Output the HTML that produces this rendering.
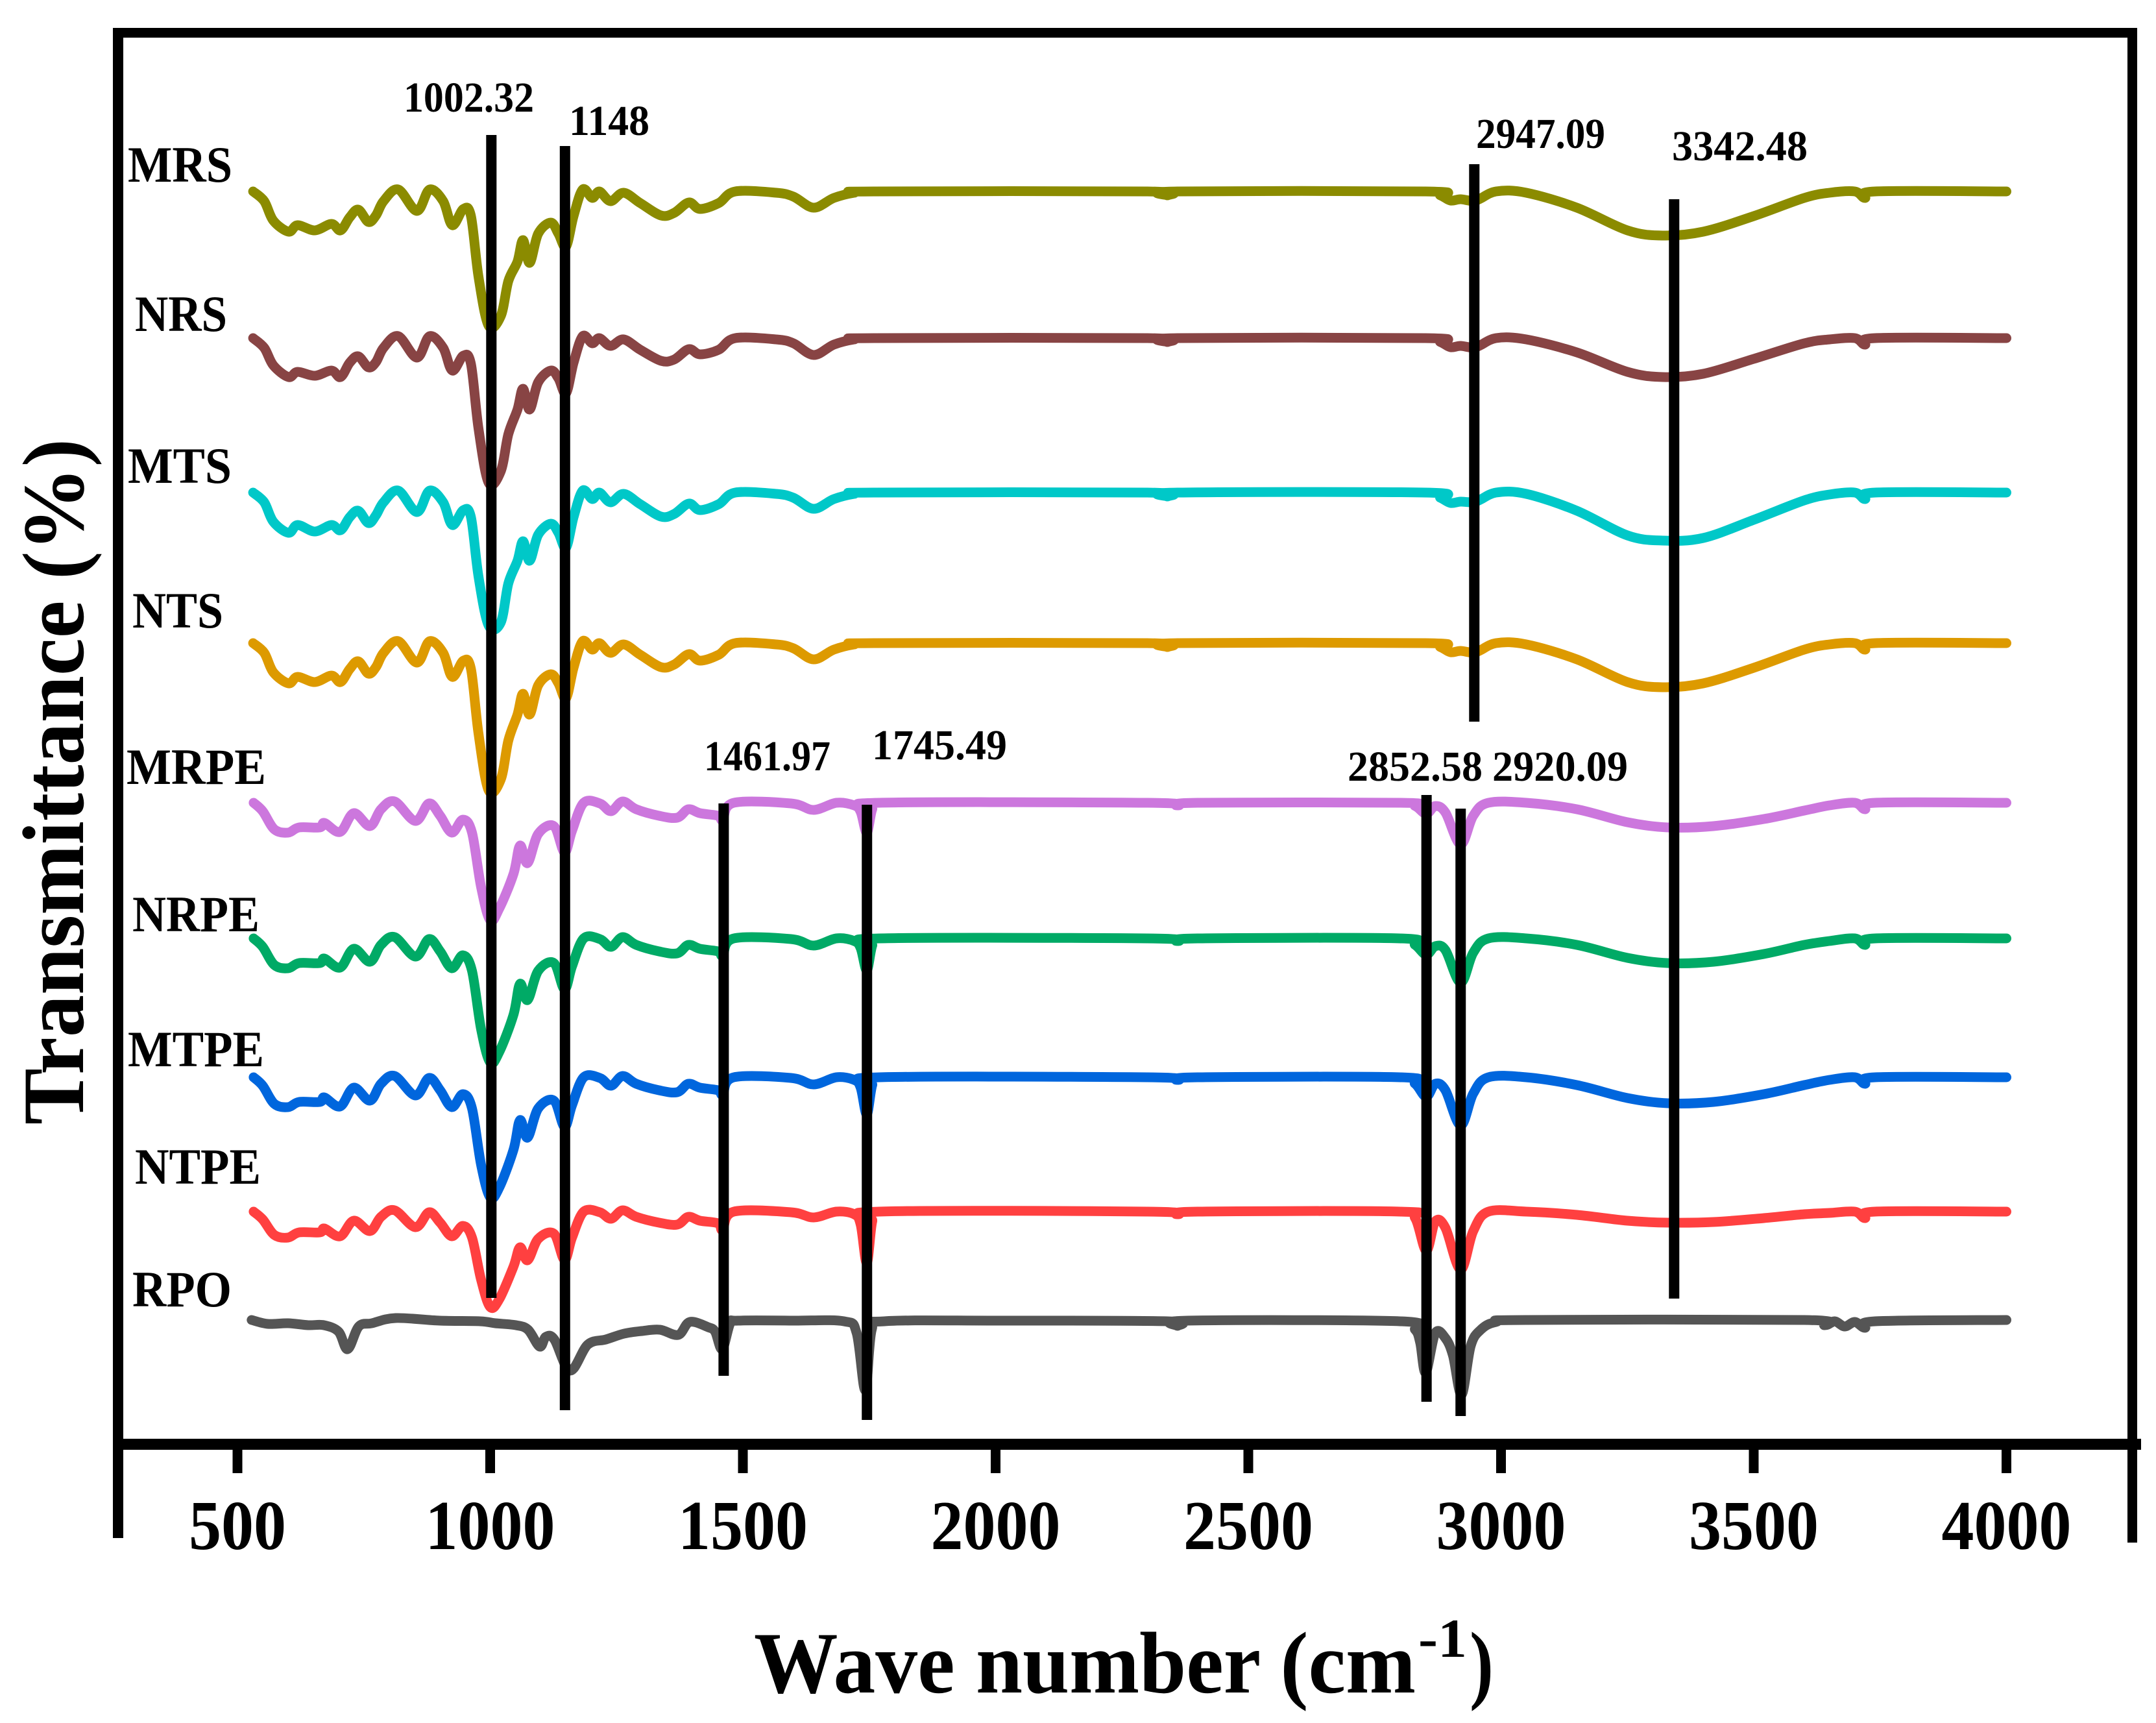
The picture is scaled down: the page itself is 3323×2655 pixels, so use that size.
<!DOCTYPE html>
<html><head><meta charset="utf-8"><style>
html,body{margin:0;padding:0;background:#fff;}
svg{display:block;}
text{font-family:"Liberation Serif",serif;font-weight:bold;fill:#000;}
</style></head><body>
<svg id="chart" width="3323" height="2655" viewBox="0 0 3323 2655" xmlns="http://www.w3.org/2000/svg">
<rect x="0" y="0" width="3323" height="2655" fill="#fff"/>
<g id="frame">
<rect x="174" y="43" width="16" height="2327" fill="#000"/>
<rect x="174" y="43" width="3119" height="15" fill="#000"/>
<rect x="3279" y="43" width="15" height="2334" fill="#000"/>
<rect x="174" y="2217" width="3126" height="17" fill="#000"/>
</g>
<g id="ticks"></g>
<g id="series"></g>
<g id="markers"></g>
<g id="labels"></g>
<text y="2608" font-size="135"><tspan x="1162" textLength="1020" lengthAdjust="spacingAndGlyphs">Wave number (cm</tspan><tspan x="2186" y="2553" font-size="85" textLength="75" lengthAdjust="spacingAndGlyphs">-1</tspan><tspan x="2265" y="2608" textLength="37" lengthAdjust="spacingAndGlyphs">)</tspan></text>
<text font-size="135" transform="translate(128,1733) rotate(-90)" x="0" y="0" textLength="1057" lengthAdjust="spacingAndGlyphs">Transmittance (%)</text>
</svg>
<script>
const xTicks=[500,1000,1500,2000,2500,3000,3500,4000];
const xTickLabels=["500","1000","1500","2000","2500","3000","3500","4000"];
const peakValues=[1002.32,1148,1461.97,1745.49,2852.58,2920.09,2947.09,3342.48];
const peakLabels=["1002.32","1148","1461.97","1745.49","2852.58","2920.09","2947.09","3342.48"];
const seriesNames=["MRS","NRS","MTS","NTS","MRPE","NRPE","MTPE","NTPE","RPO"];
const MRS=[[531,0],[553,15],[571,45],[601,62],[619,52],[653,60],[686,50],[704,60],[722,40],[739,28],[759,47],[774,37],[789,15],[818,-3],[855,30],[880,-3],[907,15],[925,52],[947,27],[962,38],[977,132],[997,207],[1021,192],[1036,138],[1054,108],[1065,75],[1078,110],[1095,65],[1120,48],[1135,65],[1150,85],[1165,38],[1183,-3],[1202,10],[1216,0],[1238,15],[1264,2],[1297,18],[1338,37],[1364,33],[1393,17],[1415,27],[1452,18],[1485,0],[1566,2],[1600,8],[1640,25],[1680,10],[1720,2],[1760,0],[2300,0],[2340,6],[2360,0],[2850,0],[2880,6],[2900,14],[2920,12],[2950,14],[2990,0],[3050,2],[3150,25],[3250,60],[3320,68],[3400,62],[3500,38],[3600,10],[3650,2],[3700,0],[3720,10],[3740,0],[4000,0]];
const NRS=[[531,0],[553,15],[571,42],[601,60],[619,52],[653,58],[686,50],[704,60],[722,38],[739,28],[759,45],[774,37],[789,15],[818,-3],[855,30],[880,-3],[907,15],[925,50],[947,27],[962,40],[977,140],[997,223],[1021,205],[1036,148],[1054,110],[1065,78],[1078,110],[1095,68],[1120,50],[1135,62],[1150,85],[1165,38],[1183,-3],[1202,8],[1216,0],[1238,12],[1264,2],[1297,18],[1338,35],[1364,33],[1393,17],[1415,25],[1452,18],[1485,0],[1566,2],[1600,8],[1640,26],[1680,10],[1720,2],[1760,0],[2300,0],[2340,6],[2360,0],[2850,0],[2880,6],[2900,14],[2920,12],[2950,14],[2990,0],[3050,2],[3150,22],[3250,52],[3320,60],[3400,55],[3500,32],[3600,8],[3650,2],[3700,0],[3720,10],[3740,0],[4000,0]];
const MTS=[[531,0],[553,15],[571,45],[601,62],[619,50],[653,60],[686,50],[704,58],[722,38],[739,28],[759,47],[774,35],[789,15],[818,-3],[855,30],[880,-3],[907,15],[925,50],[947,27],[962,38],[977,130],[997,205],[1021,200],[1036,140],[1054,105],[1065,75],[1078,105],[1095,65],[1120,48],[1135,62],[1150,85],[1165,38],[1183,-3],[1202,10],[1216,0],[1238,15],[1264,2],[1297,18],[1338,37],[1364,33],[1393,17],[1415,27],[1452,18],[1485,0],[1566,2],[1600,8],[1640,25],[1680,10],[1720,2],[1760,0],[2300,0],[2340,6],[2360,0],[2850,0],[2880,8],[2900,16],[2920,14],[2950,14],[2990,0],[3050,2],[3150,28],[3250,66],[3320,74],[3400,70],[3500,42],[3600,12],[3650,3],[3700,0],[3720,10],[3740,0],[4000,0]];
const NTS=[[531,0],[553,15],[571,45],[601,62],[619,52],[653,60],[686,50],[704,60],[722,40],[739,28],[759,47],[774,37],[789,15],[818,-3],[855,30],[880,-3],[907,15],[925,52],[947,27],[962,40],[977,140],[997,227],[1021,210],[1036,150],[1054,110],[1065,78],[1078,110],[1095,65],[1120,48],[1135,62],[1150,85],[1165,38],[1183,-3],[1202,10],[1216,0],[1238,15],[1264,2],[1297,18],[1338,37],[1364,33],[1393,17],[1415,27],[1452,18],[1485,0],[1566,2],[1600,8],[1640,25],[1680,10],[1720,2],[1760,0],[2300,0],[2340,6],[2360,0],[2850,0],[2880,6],[2900,14],[2920,12],[2950,14],[2990,0],[3050,2],[3150,25],[3250,60],[3320,68],[3400,62],[3500,38],[3600,10],[3650,2],[3700,0],[3720,10],[3740,0],[4000,0]];
const MRPE=[[532,0],[550,13],[573,41],[600,46],[622,38],[663,38],[672,31],[703,45],[730,16],[762,36],[784,10],[811,-2],[852,28],[879,1],[901,20],[924,46],[946,26],[964,46],[982,130],[1000,181],[1018,163],[1046,110],[1059,66],[1074,93],[1095,48],[1126,36],[1147,76],[1162,43],[1185,0],[1217,1],[1239,13],[1262,-2],[1289,10],[1334,20],[1370,23],[1392,10],[1415,16],[1451,20],[1460,26],[1482,0],[1595,1],[1640,11],[1685,0],[1720,4],[1733,14],[1745,46],[1756,10],[1770,0],[2300,0],[2360,4],[2400,0],[2800,0],[2830,5],[2852,17],[2870,5],[2890,15],[2920,64],[2945,20],[2975,0],[3050,0],[3150,10],[3250,30],[3330,38],[3420,36],[3520,25],[3600,12],[3650,4],[3700,0],[3720,10],[3740,0],[4000,0]];
const NRPE=[[532,0],[550,13],[573,41],[600,46],[622,38],[663,38],[672,31],[703,45],[730,16],[762,36],[784,10],[811,-2],[852,28],[879,1],[901,20],[924,46],[946,26],[964,50],[982,140],[1000,191],[1018,175],[1046,118],[1059,70],[1074,95],[1095,50],[1126,38],[1147,78],[1162,43],[1185,0],[1217,1],[1239,13],[1262,-2],[1289,10],[1334,20],[1370,23],[1392,10],[1415,16],[1451,20],[1460,26],[1482,0],[1595,1],[1640,11],[1685,0],[1720,4],[1733,15],[1745,49],[1756,11],[1770,0],[2300,0],[2360,4],[2400,0],[2800,0],[2830,10],[2852,25],[2870,12],[2890,18],[2920,68],[2945,22],[2975,0],[3050,0],[3150,10],[3250,30],[3330,38],[3420,36],[3520,24],[3600,10],[3650,4],[3700,0],[3720,10],[3740,0],[4000,0]];
const MTPE=[[532,0],[550,13],[573,41],[600,46],[622,38],[663,38],[672,31],[703,45],[730,16],[762,36],[784,10],[811,-2],[852,28],[879,1],[901,20],[924,46],[946,26],[964,48],[982,135],[1000,185],[1018,170],[1046,112],[1059,66],[1074,93],[1095,48],[1126,36],[1147,76],[1162,43],[1185,0],[1217,1],[1239,13],[1262,-2],[1289,10],[1334,20],[1370,23],[1392,10],[1415,16],[1451,20],[1460,26],[1482,0],[1595,1],[1640,11],[1685,0],[1720,4],[1733,16],[1745,57],[1756,12],[1770,0],[2300,0],[2360,4],[2400,0],[2800,0],[2830,10],[2852,30],[2870,10],[2890,20],[2920,74],[2945,25],[2975,0],[3050,0],[3150,12],[3250,32],[3330,40],[3420,38],[3520,26],[3600,12],[3650,4],[3700,0],[3720,10],[3740,0],[4000,0]];
const NTPE=[[532,0],[550,12],[573,36],[600,40],[622,32],[663,32],[672,26],[703,38],[730,14],[762,30],[784,8],[811,-2],[852,24],[879,1],[901,17],[924,38],[946,22],[964,40],[982,105],[1000,147],[1018,135],[1046,85],[1059,55],[1074,75],[1095,42],[1126,34],[1147,74],[1162,40],[1185,0],[1217,1],[1239,11],[1262,-2],[1289,8],[1334,17],[1370,20],[1392,8],[1415,14],[1451,18],[1460,28],[1482,0],[1595,1],[1640,9],[1685,0],[1720,4],[1733,20],[1745,79],[1756,15],[1770,0],[2300,0],[2360,4],[2400,0],[2800,0],[2830,10],[2852,60],[2870,15],[2890,25],[2920,89],[2945,30],[2975,0],[3050,0],[3150,5],[3250,14],[3330,17],[3420,16],[3520,10],[3600,4],[3650,2],[3700,0],[3720,10],[3740,0],[4000,0]];
const RPO=[[528,0],[560,6],[600,5],[640,8],[671,8],[700,18],[718,45],[740,10],[766,5],[813,-3],[900,1],[980,2],[1010,5],[1051,8],[1075,15],[1098,41],[1110,26],[1127,30],[1158,78],[1193,38],[1229,30],[1265,21],[1300,17],[1336,15],[1372,23],[1395,3],[1431,11],[1445,18],[1459,45],[1475,5],[1490,1],[1600,1],[1700,2],[1725,20],[1742,108],[1755,15],[1780,2],[2000,1],[2340,2],[2360,9],[2380,1],[2800,2],[2830,15],[2840,35],[2851,81],[2870,20],[2890,28],[2905,55],[2922,115],[2940,40],[2960,15],[2990,3],[3050,0],[3600,0],[3640,8],[3660,2],[3680,10],[3700,3],[3720,12],[3740,2],[4000,0]];
const seriesData=[MRS,NRS,MTS,NTS,MRPE,NRPE,MTPE,NTPE,RPO];

// style / layout (not data)
const seriesColors=["#8b8b00","#884444","#00c8c8","#dd9a00","#cc77dd","#00aa66","#0066dd","#ff4040","#555555"];
const seriesBase=[295,521,759,991,1237,1446,1660,1867,2034];
const labelLayout=[[197,280,161],[208,510,142],[197,744,160],[204,967,140],[195,1208,215],[204,1435,196],[197,1643,210],[208,1824,194],[204,2013,153]];
const markerLayout=[[208,2000,622,172,201],[225,2173,877,208,124],[1238,2120,1085,1187,195],[1240,2188,1344,1170,208],[1225,2160,2077,1203,208],[1246,2182,2300,1203,209],[253,1112,2275,228,199],[307,2001,2577,247,209]];

const NS="http://www.w3.org/2000/svg";
function xs(w){return 366+(w-500)*0.779;}
function mk(tag,attrs,parent){const e=document.createElementNS(NS,tag);for(const k in attrs)e.setAttribute(k,attrs[k]);parent.appendChild(e);return e;}

const tickG=document.getElementById('ticks');
xTicks.forEach((v,i)=>{
  const t=mk('rect',{x:xs(v)-7.5,y:2234,width:15,height:36,fill:'#000'},tickG);
  
  
  const lbl=xTickLabels[i];
  const w=lbl.length*50;
  const tx=mk('text',{x:xs(v)-w/2,y:2387,'font-size':108,textLength:w,lengthAdjust:'spacingAndGlyphs'},tickG);
  tx.textContent=lbl;
  
  
});

function pathFrom(pts){
  let d='M'+pts[0][0].toFixed(1)+','+pts[0][1].toFixed(1);
  for(let i=0;i<pts.length-1;i++){
    const p0=pts[i-1]||pts[i],p1=pts[i],p2=pts[i+1],p3=pts[i+2]||p2;
    const c1x=p1[0]+(p2[0]-p0[0])/6,c1y=p1[1]+(p2[1]-p0[1])/6;
    const c2x=p2[0]-(p3[0]-p1[0])/6,c2y=p2[1]-(p3[1]-p1[1])/6;
    d+=' C'+c1x.toFixed(1)+','+c1y.toFixed(1)+' '+c2x.toFixed(1)+','+c2y.toFixed(1)+' '+p2[0].toFixed(1)+','+p2[1].toFixed(1);
  }
  return d;
}
const serG=document.getElementById('series');
seriesData.forEach((arr,i)=>{
  const pts=arr.map(p=>[xs(p[0]),seriesBase[i]+p[1]]);
  const p=mk('path',{d:pathFrom(pts),fill:'none',stroke:seriesColors[i],'stroke-width':15,'stroke-linejoin':'round','stroke-linecap':'round'},serG);
  
  
});

const mG=document.getElementById('markers');
peakValues.forEach((v,i)=>{
  const L=markerLayout[i];
  const r=mk('rect',{x:xs(v)-8,y:L[0],width:16,height:L[1]-L[0],fill:'#000'},mG);
  
  
  const t=mk('text',{x:L[2],y:L[3],'font-size':66,textLength:L[4],lengthAdjust:'spacingAndGlyphs'},mG);
  t.textContent=peakLabels[i];
  
  
});

const lG=document.getElementById('labels');
seriesNames.forEach((n,i)=>{
  const L=labelLayout[i];
  const t=mk('text',{x:L[0],y:L[1],'font-size':78,textLength:L[2],lengthAdjust:'spacingAndGlyphs'},lG);
  t.textContent=n;
  
  
});
</script>
</body></html>
